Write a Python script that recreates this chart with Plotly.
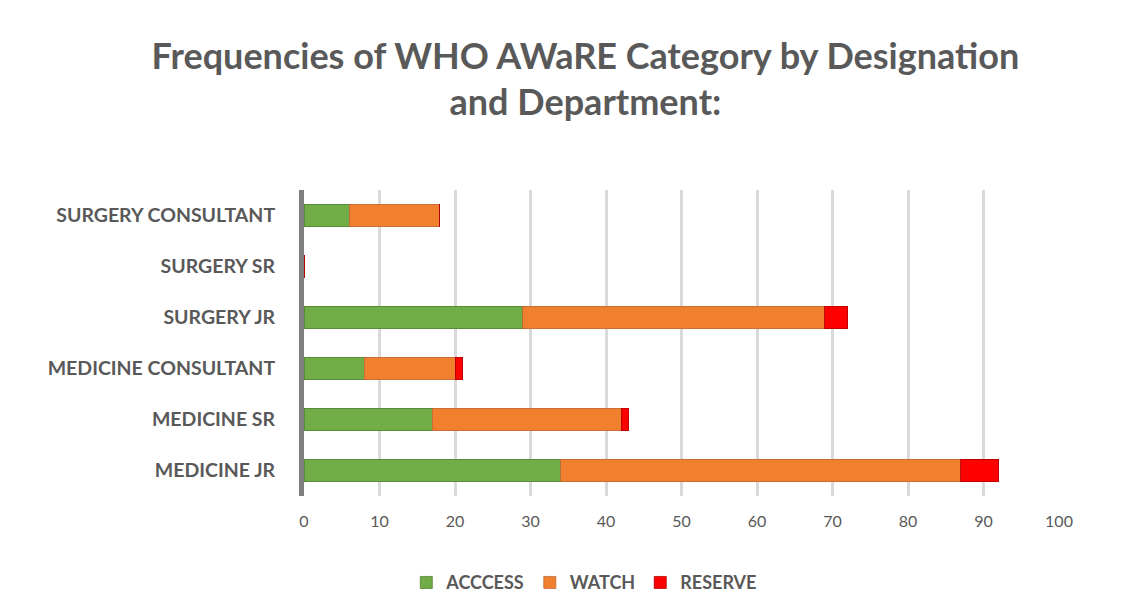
import plotly.graph_objects as go

categories = ["MEDICINE JR", "MEDICINE SR", "MEDICINE CONSULTANT",
              "SURGERY JR", "SURGERY SR", "SURGERY CONSULTANT"]
access = [34, 17, 8, 29, 0, 6]
watch = [53, 25, 12, 40, 0, 12]
reserve = [5, 1, 1, 3, 0, 0]
x_ticks = [0, 10, 20, 30, 40, 50, 60, 70, 80, 90, 100]

series = [("ACCCESS", access, "#70AD47", "#548235"),
          ("WATCH", watch, "#F07F2E", "#C0683A"),
          ("RESERVE", reserve, "#FF0000", "#B00000")]

fig = go.Figure()
for name, vals, col, edge in series:
    fig.add_trace(go.Bar(
        y=categories, x=vals, name=name, orientation="h",
        marker=dict(color=col, line=dict(color=edge, width=0.8)),
    ))

grey = "#595959"
fig.update_layout(
    barmode="stack",
    bargap=0.56,
    width=1130, height=605,
    margin=dict(l=296, r=79, t=182, b=117),
    paper_bgcolor="white", plot_bgcolor="white",
    font=dict(family="Lato, Carlito, sans-serif", color=grey),
    title=dict(
        text="<b>Frequencies of WHO AWaRE Category by Designation<br>and Department:</b>",
        x=0.511, xanchor="center", y=0.9, yanchor="middle",
        font=dict(size=36, color=grey, family="Lato, sans-serif"),
    ),
    xaxis=dict(range=[0, 100], tickvals=x_ticks, showgrid=True,
               gridcolor="#D9D9D9", gridwidth=2.5, zeroline=False,
               ticklabelstandoff=14, tickfont=dict(size=16, color=grey),
               fixedrange=True),
    yaxis=dict(categoryorder="array", categoryarray=categories,
               showgrid=False, ticklabelstandoff=20,
               tickfont=dict(size=19.5, color=grey, family="Lato, sans-serif", weight="bold"),
               showline=True, linecolor="#7F7F7F", linewidth=5),
    legend=dict(orientation="h", xref="container", yref="container",
                x=0.51, y=0.05, xanchor="center", yanchor="middle",
                font=dict(size=18, color=grey, weight="bold"),
                itemwidth=30, traceorder="normal"),
    showlegend=True,
)
fig.write_html("out.html")
